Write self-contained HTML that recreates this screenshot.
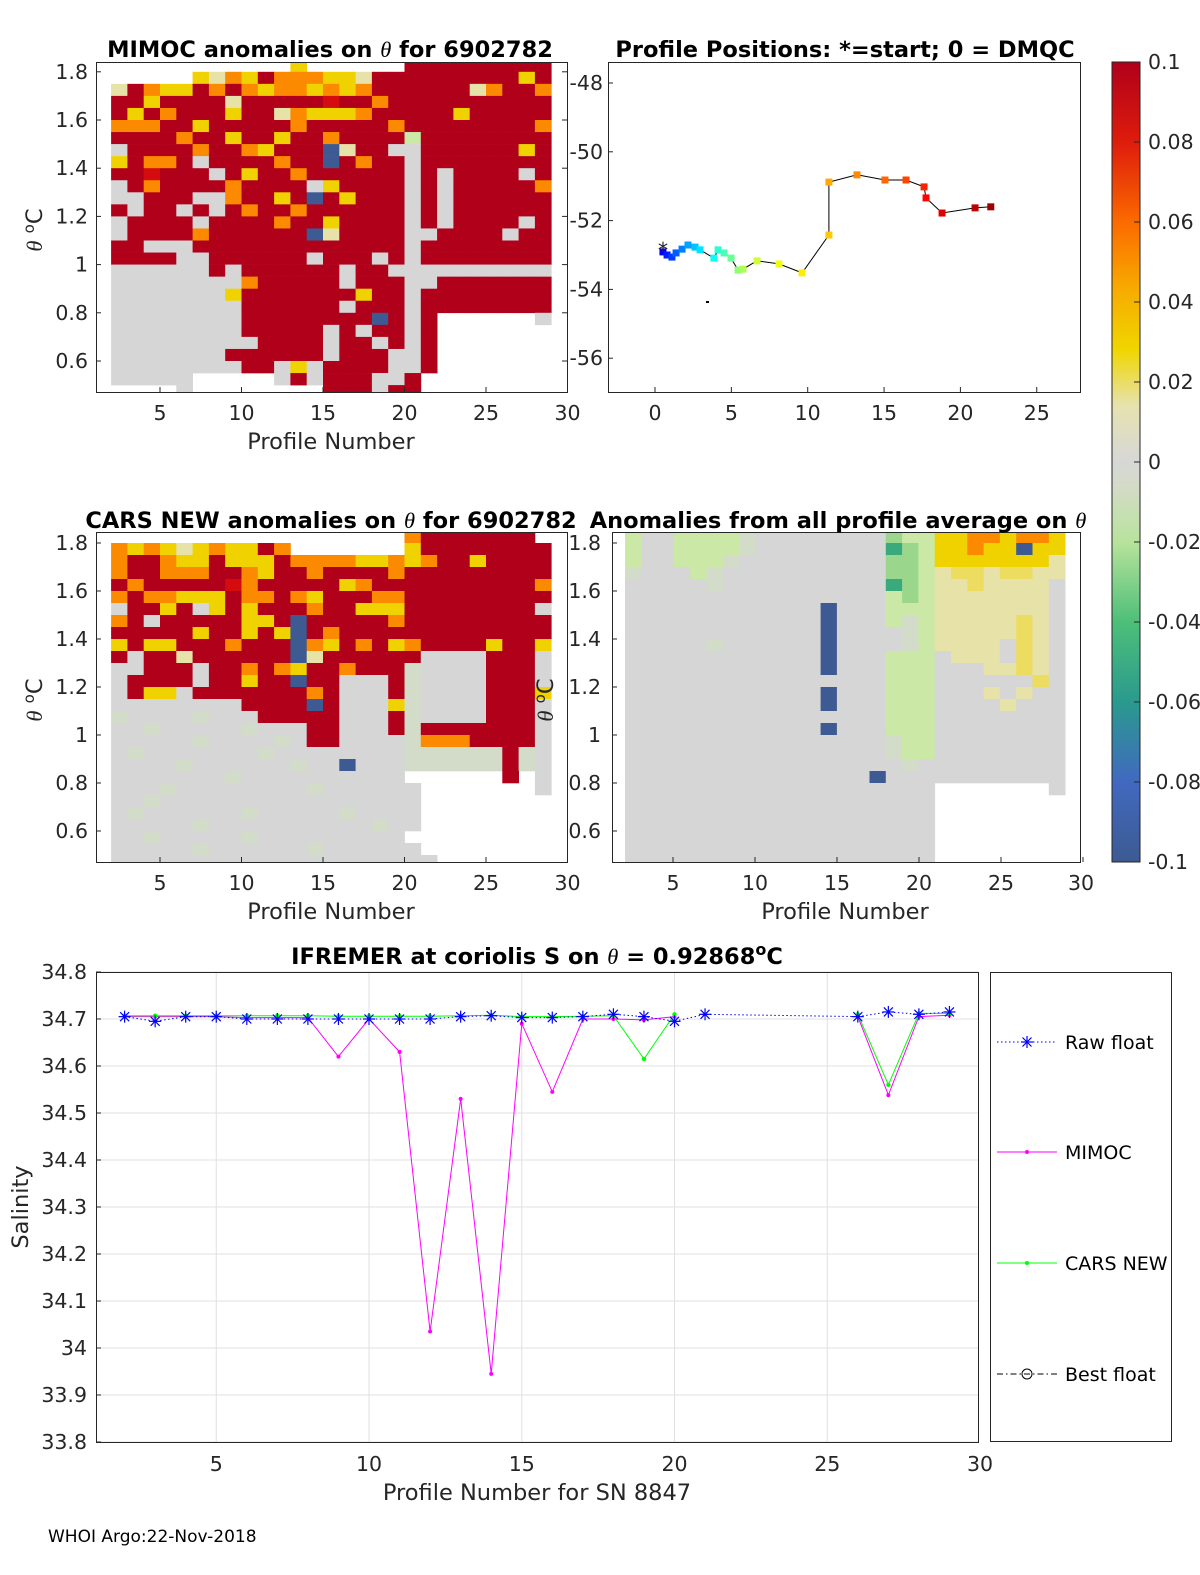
<!DOCTYPE html>
<html><head><meta charset="utf-8"><style>
html,body{margin:0;padding:0;background:#fff;}
svg{display:block;font-family:"DejaVu Sans","Liberation Sans",sans-serif;}
.t{font-size:20.5px;fill:#262626;}
.ti{font-size:22.5px;font-weight:bold;fill:#000;}
.lb{font-size:22.5px;fill:#262626;}
</style></head><body>
<svg id="fig" width="1200" height="1575" viewBox="0 0 1200 1575" xmlns="http://www.w3.org/2000/svg">
<defs>
<clipPath id="c1"><rect x="96" y="62" width="471" height="330"/></clipPath>
<clipPath id="c3"><rect x="96" y="532" width="471" height="330"/></clipPath>
<clipPath id="c4"><rect x="612" y="532" width="468" height="330"/></clipPath>
<linearGradient id="cbg" x1="0" y1="1" x2="0" y2="0">
<stop offset="0" stop-color="#3d5a92"/><stop offset="0.1" stop-color="#4169c0"/>
<stop offset="0.2" stop-color="#2a9a8e"/><stop offset="0.3" stop-color="#4dbf78"/>
<stop offset="0.4" stop-color="#b8e39c"/><stop offset="0.47" stop-color="#d4dbc8"/>
<stop offset="0.5" stop-color="#d7d7d7"/><stop offset="0.57" stop-color="#e6e2b0"/>
<stop offset="0.64" stop-color="#f0d600"/><stop offset="0.72" stop-color="#f8a800"/>
<stop offset="0.8" stop-color="#fb6a00"/><stop offset="0.9" stop-color="#de1c0c"/>
<stop offset="1" stop-color="#b0001a"/></linearGradient>
</defs>
<g id="p1"></g>
<g id="p2"></g>
<g id="p3"></g>
<g id="p4"></g>
<g id="p5"></g>

<text class="ti" x="330" y="57" text-anchor="middle">MIMOC anomalies on <tspan font-style="italic" font-weight="normal" font-family="Liberation Serif">θ</tspan>  for 6902782</text>
<text class="ti" x="845" y="57" text-anchor="middle">Profile Positions: *=start; 0 = DMQC</text>
<text class="ti" x="331" y="528" text-anchor="middle">CARS NEW anomalies on <tspan font-style="italic" font-weight="normal" font-family="Liberation Serif">θ</tspan> for 6902782</text>
<text class="ti" x="838" y="528" text-anchor="middle">Anomalies from all profile average on <tspan font-style="italic" font-weight="normal" font-family="Liberation Serif">θ</tspan></text>
<text class="ti" x="537" y="964" text-anchor="middle">IFREMER at coriolis S on <tspan font-style="italic" font-weight="normal" font-family="Liberation Serif">θ</tspan> = 0.92868<tspan dy="-9" font-size="16">o</tspan><tspan dy="9">C</tspan></text>

<text class="lb" x="331" y="449" text-anchor="middle">Profile Number</text>
<text class="lb" x="331" y="919" text-anchor="middle">Profile Number</text>
<text class="lb" x="845" y="919" text-anchor="middle">Profile Number</text>
<text class="lb" x="537" y="1500" text-anchor="middle">Profile Number for SN 8847</text>
<text class="lb" transform="translate(42,230) rotate(-90)" text-anchor="middle"><tspan font-style="italic" font-family="Liberation Serif">θ</tspan> <tspan dy="-8" font-size="15">o</tspan><tspan dy="8">C</tspan></text>
<text class="lb" transform="translate(42,700) rotate(-90)" text-anchor="middle"><tspan font-style="italic" font-family="Liberation Serif">θ</tspan> <tspan dy="-8" font-size="15">o</tspan><tspan dy="8">C</tspan></text>
<text class="lb" transform="translate(553,700) rotate(-90)" text-anchor="middle"><tspan font-style="italic" font-family="Liberation Serif">θ</tspan> <tspan dy="-8" font-size="15">o</tspan><tspan dy="8">C</tspan></text>
<text class="lb" transform="translate(28,1207) rotate(-90)" text-anchor="middle">Salinity</text>
<text x="48" y="1542" font-size="17" fill="#000">WHOI Argo:22-Nov-2018</text>

<g>
<rect x="1112" y="62" width="28" height="800" fill="url(#cbg)" stroke="#262626" stroke-width="1"/>
</g>
<g id="cbt"></g>

<g>
<rect x="990.5" y="972.5" width="181" height="469" fill="#fff" stroke="#262626"/>
<g>
<line x1="997" y1="1042" x2="1057" y2="1042" stroke="#0000ff" stroke-dasharray="1.5,2.5"/>
<g stroke="#0000ff" stroke-width="1.2"><line x1="1021" y1="1042" x2="1033" y2="1042"/><line x1="1027" y1="1036" x2="1027" y2="1048"/><line x1="1022.5" y1="1037.5" x2="1031.5" y2="1046.5"/><line x1="1022.5" y1="1046.5" x2="1031.5" y2="1037.5"/></g>
<text x="1065" y="1049" font-size="19" fill="#000">Raw float</text></g>
<g>
<line x1="997" y1="1152" x2="1057" y2="1152" stroke="#ff00ff"/><circle cx="1027" cy="1152" r="2" fill="#ff00ff"/>
<text x="1065" y="1159" font-size="19" fill="#000">MIMOC</text></g>
<g>
<line x1="997" y1="1263" x2="1057" y2="1263" stroke="#00ff00"/><circle cx="1027" cy="1263" r="2" fill="#00ff00"/>
<text x="1065" y="1270" font-size="19" fill="#000">CARS NEW</text></g>
<g>
<line x1="997" y1="1374" x2="1057" y2="1374" stroke="#000" stroke-dasharray="6,3,1.5,3"/><circle cx="1027" cy="1374" r="5" fill="none" stroke="#000"/>
<text x="1065" y="1381" font-size="19" fill="#000">Best float</text></g>
</g>
</svg>
<script>
// ---------- data ----------
const colorbarTicks = ["0.1","0.08","0.06","0.04","0.02","0","-0.02","-0.04","-0.06","-0.08","-0.1"];
const heatProfiles = [2,3,4,5,6,7,8,9,10,11,12,13,14,15,16,17,18,19,20,21,22,23,24,25,26,27,28];
const rowThetaTop = [1.85,1.80,1.75,1.70,1.65,1.60,1.55,1.50,1.45,1.40,1.35,1.30,1.25,1.20,1.15,1.10,1.05,1.00,0.95,0.90,0.85,0.80,0.75,0.70,0.65,0.60,0.55,0.50];
const mimocRows = [
"...........y......RRRRRRRRR",
".....ycoyRoooyycRRRRRRRRRyR",
"cRoyyRoRoyooyoyoRRRRRRcoRRo",
"RRyRRRRcRRRRRrRRoRRRRRRRRRR",
"RyRoRRRyRRcoyyyoRRRRRyRRRRR",
"oooRRyRRRRRoRRRRRoRRRRRRRRo",
"RRRRoRRyRRyRRoRRRRLRRRRRRRR",
"gRRRRoRRoyRRRBcRRggRRRRRRyR",
"yRooRgRRRRoRRBRoRRgRRRRRRRR",
"RRrRRRgRyRRoRRRRRRgRgRRRRgR",
"gRoRRRRoRRRRgyRRRRgRgRRRRRo",
"ggRRRggoRRyRBRyRRRgRgRRRRRR",
"RgRRgRgRoRRoRRRRRRgRgRRRRRR",
"gRRRRgRRRRoRRyRRRRgRgRRRRgR",
"gRRRRoRRRRRRBcRRRRggRRRRgRR",
"RRgggRRRRRRRRRRRRRgRRRRRRRR",
"RRRRggRRRRRRgRRRgRgRRRRRRRR",
"ggggggRgRRRRRRgRRgggggggggg",
"ggggggggoRRRRRgRRRggRRRRRRR",
"gggggggyRRRRRRRyRRgRRRRRRRR",
"ggggggggRRRRRRgRRRgRRRRRRRR",
"ggggggggRRRRRRRRBRgR......g",
"ggggggggRRRRRgRgRRgR.......",
"gggggggggRRRRgRRgRgR.......",
"gggggggRRRRRRgRRRggR.......",
"ggggggggRRgygRRRRggR.......",
"ggggg.....gRgRRRggR........",
"....g........RRRgRR........"];
const carsRows = [
"..................oRRRRRRR.",
"oyoycyoyyRo.......yRRRRRRRR",
"oRRoyyRyyyRooooyyoyoRRyRRRR",
"oRRoooRRoyRRoRRRRoRRRRRRRRR",
"RoRRRRRroRRRRRyoRRRRRRRRRRo",
"oRooyyyRooRoyRRRooRRRRRRRRR",
"gRRyRgyRyRRRoRRyyyRRRRRRRRg",
"oRgRRRRRyyRBRRRRRoRRRRRRRRR",
"RRRRRyRRyRyBRoRRRRRRRRRRRRR",
"yRyyRRRoRRRBoyRoRyoRRRRyRRy",
"RgRRcRRRRRRBcRRRRRRggggRRRg",
"ggRRRgRRoRoyRRoRRRlggggRRRg",
"gRRRRgRRyRRBRRgggRlggggRRRg",
"gRyygRRRRRRRoRgggRlggggRRRy",
"ggggggggRRRRBRgggylggggRRRg",
"lgggglgggRRRRRgggRlggggRRRg",
"gglggggglgggRRgggRlRRRRRRRg",
"ggggglgggglgRRggggloooRRRRg",
"glggggggglggggggggllllllRlg",
"gggglgggggglggBgggllllllRlg",
"ggggggglgggggggggg......R.g",
"ggglgggggggglgggggg.......g",
"gglgggggggggggggggg........",
"glgggggglggggglgggg........",
"ggggglgggggggggglgg........",
"gglggggglggggggggg.........",
"ggggglgggggglgggggg........",
"gggggggggggggggggggg......."];
const avgRows = [
"LggLLLLlggggggggGLLyyooyooyy",
"LggLLLLlggggggggTGLyyoyyByy",
"LggLLLlgggggggggGGLyyyyyyyc",
"lgggLlggggggggggGGLcYYcYYcc",
"ggggglggggggggggTGLccYccccg",
"ggggggggggggggggLGLcccccccg",
"ggggggggggggBgggLLLcccccccg",
"ggggggggggggBgggLlLcccccYcg",
"ggggggggggggBgggglLcccccYcg",
"ggggglggggggBgggglLccccgYcg",
"ggggggggggggBgggLLLgcccgYcg",
"ggggggggggggBgggLLLgggccYcg",
"ggggggggggggggggLLLggggggYg",
"ggggggggggggBgggLLLgggcgcgg",
"ggggggggggggBgggLLLggggcggg",
"ggggggggggggggggLLLgggggggg",
"ggggggggggggBgggLLLgggggggg",
"gggggggggggggggglLLgggggggg",
"gggggggggggggggglLLgggggggg",
"ggggggggggggggggglggggggggg",
"gggggggggggggggBggggggggggg",
"ggggggggggggggggggg.......g",
"ggggggggggggggggggg........",
"ggggggggggggggggggg........",
"ggggggggggggggggggg........",
"ggggggggggggggggggg........",
"ggggggggggggggggggg........",
"ggggggggggggggggggg........"];
// track positions
const trackLon = [0.52,0.79,1.11,1.38,1.77,2.16,2.62,2.95,3.86,4.13,4.52,4.98,5.44,5.76,6.68,8.12,9.63,11.39,11.39,13.23,15.06,16.44,17.62,17.75,18.80,20.96,21.99];
const trackLat = [-52.91,-53.0,-53.06,-52.94,-52.83,-52.71,-52.77,-52.85,-53.09,-52.85,-52.94,-53.09,-53.44,-53.41,-53.17,-53.26,-53.52,-52.42,-50.88,-50.67,-50.82,-50.82,-51.02,-51.34,-51.78,-51.63,-51.60];
// salinity
const rawProfiles = [2,3,4,5,6,7,8,9,10,11,12,13,14,15,16,17,18,19,20,21,26,27,28,29];
const rawValues = [34.705,34.695,34.705,34.705,34.70,34.70,34.70,34.70,34.70,34.70,34.70,34.705,34.707,34.703,34.703,34.705,34.71,34.705,34.695,34.71,34.705,34.715,34.71,34.715];
const mimocProfiles = [2,3,4,5,6,7,8,9,10,11,12,13,14,15,16,17,18,19,20,null,26,27,28,29];
const mimocValues = [34.705,34.705,34.705,34.705,34.703,34.703,34.703,34.62,34.70,34.63,34.035,34.53,33.945,34.69,34.545,34.70,34.70,34.698,34.705,null,34.705,34.538,34.705,34.708];
const carsProfiles = [2,3,4,5,6,7,8,9,10,11,12,13,14,15,16,17,18,19,20,null,26,27,28,29];
const carsValues = [34.707,34.707,34.707,34.707,34.707,34.707,34.707,34.706,34.706,34.706,34.706,34.707,34.708,34.705,34.705,34.706,34.707,34.615,34.71,null,34.71,34.56,34.712,34.712];
const salTicks = ["34.8","34.7","34.6","34.5","34.4","34.3","34.2","34.1","34","33.9","33.8"];
const profTicks = [5,10,15,20,25,30];

// ---------- helpers ----------
const NS="http://www.w3.org/2000/svg";
function mk(tag,parent,attrs){const e=document.createElementNS(NS,tag);for(const k in attrs)e.setAttribute(k,attrs[k]);parent.appendChild(e);return e;}
const pal={R:"#b0001a",r:"#d40c10",o:"#fb8a00",y:"#f0d200",Y:"#ecdc60",c:"#e6e2a8",g:"#d6d6d6",l:"#d3dcc8",L:"#cce8a6",G:"#9ad78c",T:"#3aaa7e",B:"#3d5a92"};

function heatmap(g,rows,x0,colw,yOf,clip,name){
  const cg=mk("g",g,{"clip-path":"url(#"+clip+")"});
  rows.forEach((row,k)=>{
    const yt=yOf(rowThetaTop[k]), yb=yOf(rowThetaTop[k]-0.05);
    heatProfiles.forEach((p,i)=>{
      const ch=row[i]||'.';
      if(ch==='.')return;
      const r=mk("rect",cg,{x:(x0+(p-2)*colw).toFixed(2),y:yt.toFixed(2),width:(colw+0.4).toFixed(2),height:(yb-yt+0.3).toFixed(2),fill:pal[ch]});
      
      
    });
  });
}
function box(g,x,y,w,h){mk("rect",g,{x:x+0.5,y:y+0.5,width:w,height:h,fill:"none",stroke:"#262626","stroke-width":1});}
function txt(g,x,y,s,anchor,cls){const t=mk("text",g,{x:x,y:y,"text-anchor":anchor||"middle",class:cls||"t"});t.textContent=s;return t;}

// ---------- panel 1 ----------
const p1=document.getElementById("p1");
const y1=v=>361-(v-0.6)*241;
const x1=p=>78.5+p*16.3;
heatmap(p1,mimocRows,x1(2),16.3,y1,"c1","mimoc");
box(p1,96,62,471,330);
[5,10,15,20,25,30].forEach(p=>{mk("line",p1,{x1:x1(p),x2:x1(p),y1:392,y2:387,stroke:"#262626"});txt(p1,x1(p),420,String(p));});
["0.6","0.8","1","1.2","1.4","1.6","1.8"].forEach(s=>{const y=y1(+s);mk("line",p1,{x1:96,x2:101,y1:y,y2:y,stroke:"#262626"});mk("line",p1,{x1:567,x2:562,y1:y,y2:y,stroke:"#262626"});txt(p1,88,y+7,s,"end");});

// ---------- panel 2 ----------
const p2=document.getElementById("p2");
const lx=v=>655+v*15.27, ly=v=>83+(-48-v)*34.4;
box(p2,608,62,472,330);
[0,5,10,15,20,25].forEach(v=>{mk("line",p2,{x1:lx(v),x2:lx(v),y1:392,y2:387,stroke:"#262626"});txt(p2,lx(v),420,String(v));});
[-48,-50,-52,-54,-56].forEach(v=>{mk("line",p2,{x1:608,x2:613,y1:ly(v),y2:ly(v),stroke:"#262626"});txt(p2,603,ly(v)+7,String(v),"end");});
const pts=trackLon.map((v,i)=>lx(v).toFixed(1)+","+ly(trackLat[i]).toFixed(1)).join(" ");
const tl=mk("polyline",p2,{points:pts,fill:"none",stroke:"#000","stroke-width":1});


function jet(t){const r=Math.max(0,Math.min(1,1.5-Math.abs(4*t-3))),g=Math.max(0,Math.min(1,1.5-Math.abs(4*t-2))),b=Math.max(0,Math.min(1,1.5-Math.abs(4*t-1)));return "rgb("+Math.round(r*255)+","+Math.round(g*255)+","+Math.round(b*255)+")";}
trackLon.forEach((v,i)=>{const t=0.12+0.85*i/(trackLon.length-1);
  const s=mk("rect",p2,{x:lx(v)-3.5,y:ly(trackLat[i])-3.5,width:7,height:7,fill:jet(t)});
  
  });
const st=txt(p2,lx(trackLon[0]),ly(trackLat[0])+5,"*","middle");st.setAttribute("fill","#1a3bd6");
mk("rect",p2,{x:706,y:301,width:3,height:2,fill:"#000"});

// ---------- panel 3 ----------
const p3=document.getElementById("p3");
const y3=v=>831-(v-0.6)*240;
heatmap(p3,carsRows,x1(2),16.3,y3,"c3","cars");
box(p3,96,532,471,330);
[5,10,15,20,25,30].forEach(p=>{mk("line",p3,{x1:x1(p),x2:x1(p),y1:862,y2:857,stroke:"#262626"});txt(p3,x1(p),890,String(p));});
["0.6","0.8","1","1.2","1.4","1.6","1.8"].forEach(s=>{const y=y3(+s);mk("line",p3,{x1:96,x2:101,y1:y,y2:y,stroke:"#262626"});txt(p3,88,y+7,s,"end");});

// ---------- panel 4 ----------
const p4=document.getElementById("p4");
const x4=p=>591+p*16.4;
heatmap(p4,avgRows,625,16.3,y3,"c4","average");
box(p4,612,532,468,330);
[5,10,15,20,25,30].forEach(p=>{mk("line",p4,{x1:x4(p),x2:x4(p),y1:862,y2:857,stroke:"#262626"});txt(p4,Math.min(x4(p),1081),890,String(p));});
["0.6","0.8","1","1.2","1.4","1.6","1.8"].forEach(s=>{const y=y3(+s);mk("line",p4,{x1:612,x2:617,y1:y,y2:y,stroke:"#262626"});txt(p4,601,y+7,s,"end");});

// ---------- colorbar ticks ----------
const cbt=document.getElementById("cbt");
colorbarTicks.forEach((s,i)=>{const y=62+i*80;mk("line",cbt,{x1:1134,x2:1140,y1:y,y2:y,stroke:"#262626"});const t=txt(cbt,1148,y+7,s,"start");t.setAttribute("font-size","18");});

// ---------- salinity panel ----------
const p5=document.getElementById("p5");
const sx=p=>63.5+p*30.55, sy=v=>972+(34.8-v)*470;
profTicks.forEach(p=>{if(p<30)mk("line",p5,{x1:sx(p),x2:sx(p),y1:972,y2:1442,stroke:"#e0e0e0"});txt(p5,sx(p),1471,String(p));});
salTicks.forEach(s=>{const y=sy(+s);mk("line",p5,{x1:96,x2:978,y1:y,y2:y,stroke:"#e0e0e0"});txt(p5,87,y+7,s,"end");
  mk("line",p5,{x1:96,x2:101,y1:y,y2:y,stroke:"#262626"});});
box(p5,96,972,882,470);
function series(ps,vs,color,dash,name){
  let seg=[];const segs=[];
  ps.forEach((p,i)=>{if(p===null||vs[i]===null){if(seg.length)segs.push(seg);seg=[];}else seg.push(sx(p).toFixed(1)+","+sy(vs[i]).toFixed(1));});
  if(seg.length)segs.push(seg);
  segs.forEach(sg=>{const l=mk("polyline",p5,{points:sg.join(" "),fill:"none",stroke:color,"stroke-width":1});if(dash)l.setAttribute("stroke-dasharray",dash);
    
    });
}
series(mimocProfiles,mimocValues,"#ff00ff",null,"mimoc");
series(carsProfiles,carsValues,"#00ff00",null,"cars-new");
series(rawProfiles,rawValues,"#0000ff","1.5,2.5","raw-float");
mimocProfiles.forEach((p,i)=>{if(p===null)return;const c=mk("circle",p5,{cx:sx(p),cy:sy(mimocValues[i]),r:2,fill:"#ff00ff"});
  
  });
carsProfiles.forEach((p,i)=>{if(p===null)return;const c=mk("circle",p5,{cx:sx(p),cy:sy(carsValues[i]),r:2.2,fill:"#00ff00"});
  
  });
rawProfiles.forEach((p,i)=>{const x=sx(p),y=sy(rawValues[i]);const g=mk("g",p5,{stroke:"#0000ff","stroke-width":1.2});
  
  
  mk("line",g,{x1:x-6,x2:x+6,y1:y,y2:y});mk("line",g,{x1:x,x2:x,y1:y-6,y2:y+6});
  mk("line",g,{x1:x-4.5,x2:x+4.5,y1:y-4.5,y2:y+4.5});mk("line",g,{x1:x-4.5,x2:x+4.5,y1:y+4.5,y2:y-4.5});});
</script>
</body></html>
